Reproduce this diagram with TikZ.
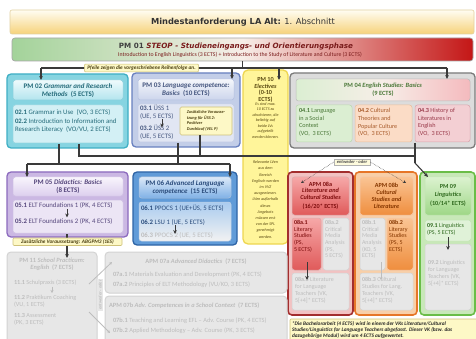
\documentclass[tikz,border=0pt]{standalone}
\usepackage{fontspec}
\setmainfont{Carlito}
\newfontfamily\widefont{DejaVu Sans}
\usetikzlibrary{arrows.meta}
\newcommand\fsz[2]{\fontsize{#1}{#2}\selectfont}
\newcommand\mybox[6]{\pgfmathsetmacro\mbw{#4-#2}\pgfmathsetmacro\mbh{#5-#3}%
  \node[#6,anchor=north west,minimum width=\mbw pt,minimum height=\mbh pt,inner sep=0pt,outer sep=0pt] (#1) at (#2,#3) {};}
\definecolor{cline}{HTML}{3A3A3A}
\definecolor{ttop}{HTML}{FFFDF2}\definecolor{tbot}{HTML}{F6D27A}\definecolor{tdraw}{HTML}{E2D0A0}
\definecolor{gA}{HTML}{A3D39A}\definecolor{wA}{HTML}{F7EEE8}\definecolor{rA}{HTML}{C41616}
\definecolor{txA}{HTML}{7A1C1C}
\definecolor{cyO}{HTML}{86D4E1}\definecolor{cyD}{HTML}{3FAFC4}\definecolor{cyH1}{HTML}{EFFAFC}\definecolor{cyH2}{HTML}{B3E5EE}\definecolor{cyB}{HTML}{D3F0F5}\definecolor{cyT}{HTML}{256B7A}
\definecolor{bhO}{HTML}{C3CEE8}\definecolor{bhD}{HTML}{6880BF}\definecolor{bhH1}{HTML}{F5F7FB}\definecolor{bhH2}{HTML}{CCD5EC}\definecolor{bhB}{HTML}{E1E6F3}\definecolor{bhT}{HTML}{44557E}
\definecolor{yeF}{HTML}{FFF59A}\definecolor{yeD}{HTML}{EED650}\definecolor{yeT}{HTML}{5A4A12}
\definecolor{grO}{HTML}{DCDCDC}\definecolor{grD}{HTML}{7A7A7A}
\definecolor{s1F}{HTML}{DBEED2}\definecolor{s1D}{HTML}{BCD8B2}\definecolor{s1T}{HTML}{4A7838}
\definecolor{s2F}{HTML}{FBDCC6}\definecolor{s2D}{HTML}{E8BE9E}\definecolor{s2T}{HTML}{A85A2A}
\definecolor{s3F}{HTML}{F3CFD3}\definecolor{s3D}{HTML}{D8A6AE}\definecolor{s3T}{HTML}{9A3A4A}
\definecolor{puO}{HTML}{CBB8E3}\definecolor{puD}{HTML}{8C6ABE}\definecolor{puH1}{HTML}{F9F5FC}\definecolor{puH2}{HTML}{DCCFEE}\definecolor{puB}{HTML}{ECE5F5}\definecolor{puT}{HTML}{55467C}
\definecolor{blO}{HTML}{609BD8}\definecolor{blD}{HTML}{2E64A6}\definecolor{blH1}{HTML}{DCE9F8}\definecolor{blH2}{HTML}{80B1E6}\definecolor{blB1}{HTML}{A9CBEF}\definecolor{blB2}{HTML}{F2F2F2}\definecolor{blT}{HTML}{2A4C7C}
\definecolor{reO}{HTML}{F2C2C2}\definecolor{reD}{HTML}{A32E2E}\definecolor{reH1}{HTML}{F6A8A8}\definecolor{reH2}{HTML}{E05A5A}\definecolor{reT}{HTML}{7E0E0E}
\definecolor{orO}{HTML}{F8CFA8}\definecolor{orD}{HTML}{E67628}\definecolor{orH1}{HTML}{FAC494}\definecolor{orH2}{HTML}{EF8E3E}\definecolor{orT}{HTML}{853600}
\definecolor{gnO}{HTML}{C8E8B8}\definecolor{gnD}{HTML}{6ABD48}\definecolor{gnH1}{HTML}{DCF2D0}\definecolor{gnH2}{HTML}{9ED786}\definecolor{gnB}{HTML}{E0F2D8}\definecolor{gnT}{HTML}{2F6A1E}
\definecolor{gyF}{HTML}{E7E7E7}\definecolor{gyD}{HTML}{D3D3D3}\definecolor{gyT}{HTML}{BDBDBD}
\definecolor{ntF}{HTML}{FDF8C6}\definecolor{ntD}{HTML}{CFC27A}\definecolor{ntT}{HTML}{4A3E10}
\tikzset{
  conn/.style={draw=cline,line width=1.1pt},
  arr/.style={conn,-{Stealth[length=4pt,width=3.6pt]}},
  garr/.style={draw=gyT,line width=0.8pt,-{Stealth[length=3pt,width=3pt]}},
  tx/.style={inner sep=0pt,outer sep=0pt,font=\fsz{6.2}{7.4}},
  bd/.style={tx,font=\fsz{6.8}{8}},
  hd/.style={tx,align=center,font=\bfseries\fsz{7}{8}},
  outer/.style={rounded corners=4pt,line width=1.3pt},
  inner/.style={rounded corners=2.5pt,line width=0.5pt},
  greybox/.style={inner,fill=gyF,draw=gyD},
}
\begin{document}
\begin{tikzpicture}[x=1pt,y=-1pt]
\useasboundingbox (0,0) rectangle (476,339);
\clip (0,0) rectangle (476,339);
\fill[white] (0,0) rectangle (476,339);

% ---------- title and PM01
\mybox{title}{10}{10}{474}{34}{rounded corners=2pt,top color=ttop,bottom color=tbot,draw=tdraw,line width=0.6pt}
\node[tx,font=\widefont\fsz{8.3}{10},text=black!80] (titlet) at (243,22) {\textbf{Mindestanforderung LA Alt:} 1. Abschnitt};
\mybox{pm01}{12}{38}{473}{61}{rounded corners=3pt,left color=gA,right color=rA,middle color=wA,draw=gray!70,line width=0.7pt}
\node[tx,font=\widefont\bfseries\fsz{7.2}{8}] (pm01a) at (236,46.5) {\textcolor{black!75}{PM 01} \textcolor{txA}{\textit{STEOP - Studieneingangs- und Orientierungsphase}}};
\node[tx,font=\fsz{5.8}{7},text=txA] (pm01b) at (240,55) {Introduction to English Linguistics (3 ECTS) + Introduction to the Study of Literature and Culture (3 ECTS)};

% ---------- top connectors
\coordinate (hub) at (242.5,68);
\coordinate (hubL) at (41,68);
\coordinate (hubR) at (447,68);
\coordinate (t03) at (232,68);
\coordinate (t10) at (279,68);

% ---------- PM02
\mybox{pm02}{7}{74}{128}{148}{outer,fill=cyO,draw=cyD}
\mybox{pm02h}{13}{80}{123}{100}{inner,top color=cyH1,bottom color=cyH2,draw=cyD!60}
\mybox{pm02b}{13}{105}{123}{143}{inner,fill=cyB,draw=cyD!50}
\node[hd,text=cyT] (pm02ht) at (68,90.5) {PM 02 \textit{Grammar and Research}\\\textit{Methods} \ (5 ECTS)};
\node[bd,anchor=west,text=cyT] (i021) at (15,112) {\textbf{02.1} Grammar in Use \ (VO, 3 ECTS)};
\node[bd,anchor=north west,align=left,text=cyT] (i022) at (15,119) {\textbf{02.2} Introduction to Information and\\Research Literacy \ (VO/VU, 2 ECTS)};

% ---------- PM03
\mybox{pm03}{132}{73}{240}{147}{outer,fill=bhO,draw=bhD}
\mybox{pm03h}{138}{79}{234}{100}{inner,top color=bhH1,bottom color=bhH2,draw=bhD!50}
\mybox{pm03b}{138}{104}{234}{142}{inner,fill=bhB,draw=bhD!40}
\node[hd,text=bhT] (pm03ht) at (186,89.5) {PM 03 \textit{Language competence:}\\\textit{Basics} \ (10 ECTS)};
\node[bd,anchor=west,align=left,text=bhT] (i031) at (140,112) {\textbf{03.1} ÜSS 1\\(UE, 5 ECTS)};
\node[bd,anchor=west,align=left,text=bhT] (i032) at (140,132.5) {\textbf{03.2} ÜSS 2\\(UE, 5 ECTS)};
\coordinate (a031) at (162,119.5);
\coordinate (a032) at (162,127.5);

% ---------- PM10
\mybox{pm10}{243}{70}{288}{244}{outer,rounded corners=5pt,fill=yeF,draw=yeD}
\node[hd,text=yeT,font=\bfseries\fsz{6.2}{6.6}] (pm10ht) at (265.5,90) {PM 10\\\textit{Electives}\\(0-10\\ECTS)};
\node[tx,align=center,text=yeT,font=\itshape\fsz{4.1}{5.5}] (pm10a) at (265.5,120.5) {Es sind max.\\10 ECTS zu\\absolvieren, die\\beliebig auf\\beide LVs\\aufgeteilt\\werden können.};
\node[tx,align=center,text=yeT,font=\itshape\fsz{4.1}{6.2}] (pm10b) at (265.5,199.5) {Relevante LVen\\aus dem\\Bereich\\Englisch werden\\im VVZ\\ausgewiesen.\\LVen außerhalb\\dieses\\Angebots\\müssen erst\\von der SPL\\genehmigt\\werden.};

% ---------- PM04
\mybox{pm04}{290}{73}{475}{148}{outer,fill=grO,draw=grD}
\mybox{pm04h}{296}{79}{470}{101}{inner,left color=s1F,right color=s3F!90!red,middle color=wA,draw=grD!50}
\node[hd,text=s1T,font=\bfseries\fsz{6.4}{8}] (pm04ht) at (383,89.5) {PM 04 \textit{English Studies: Basics}\\(9 ECTS)};
\mybox{s041}{296}{105}{352}{142}{inner,fill=s1F,draw=s1D}
\mybox{s042}{355}{105}{412}{142}{inner,fill=s2F,draw=s2D}
\mybox{s043}{415}{105}{470}{142}{inner,fill=s3F,draw=s3D}
\node[tx,anchor=north west,align=left,text=s1T,font=\fsz{6.2}{7.6}] (i041) at (299,108.5) {\textbf{04.1} Language\\in a Social\\Context\\(VO, \ 3 ECTS)};
\node[tx,anchor=north west,align=left,text=s2T,font=\fsz{6.2}{7.6}] (i042) at (358,108.5) {\textbf{04.2} Cultural\\Theories and\\Popular Culture\\(VO, \ 3 ECTS)};
\node[tx,anchor=north west,align=left,text=s3T,font=\fsz{6.2}{7.6}] (i043) at (418,108.5) {\textbf{04.3} History of\\Literatures in\\English\\(VO, \ 3 ECTS)};

% ---------- PM05
\mybox{pm05}{7}{172}{128}{237}{outer,fill=puO,draw=puD}
\mybox{pm05h}{13}{177}{123}{196}{inner,top color=puH1,bottom color=puH2,draw=puD!40}
\mybox{pm05b}{13}{200}{123}{233}{inner,fill=puB,draw=puD!40}
\node[hd,text=puT] (pm05ht) at (68,186.5) {PM 05 \textit{Didactics: Basics}\\(8 ECTS)};
\node[bd,anchor=west,text=puT] (i051) at (15,205) {\textbf{05.1} ELT Foundations 1 (PK, 4 ECTS)};
\node[bd,anchor=west,text=puT] (i052) at (15,221.5) {\textbf{05.2} ELT Foundations 2 (PK, 4 ECTS)};
\coordinate (a051) at (67,209);
\coordinate (a052) at (67,217.5);

% ---------- PM06
\mybox{pm06}{133}{172}{237}{245}{outer,fill=blO,draw=blD}
\mybox{pm06h}{139}{177}{231}{198}{inner,top color=blH1,bottom color=blH2,draw=blD!40}
\mybox{pm06b}{139}{202}{231}{241}{inner,top color=blB1,bottom color=blB2,draw=blD!30}
\node[hd,text=blT] (pm06ht) at (185,187.5) {PM 06 \textit{Advanced Language}\\\textit{competence} \ (15 ECTS)};
\node[bd,anchor=west,text=blT] (i061) at (141,208.5) {\textbf{06.1} PPOCS 1 (UE+ÜS, 5 ECTS)};
\node[bd,anchor=west,text=blT] (i062) at (141,222) {\textbf{06.2} LSU 1 (UE, 5 ECTS)};
\node[bd,anchor=west,text=gyT] (i063) at (141,235) {\textbf{06.3} PPOCS 2 (UE, 5 ECTS)};
\coordinate (a061) at (175,225);
\coordinate (a062) at (175,234);

% ---------- APM08a
\mybox{ap8a}{288}{172}{353}{315}{outer,fill=reO,draw=reD,line width=1.6pt}
\mybox{ap8ah}{292}{177}{349}{215}{inner,top color=reH1,bottom color=reH2,draw=reD!40}
\node[hd,text=reT,font=\bfseries\fsz{6.2}{6.5}] (ap8aht) at (320.5,196) {APM 08a\\\textit{Literature and}\\\textit{Cultural Studies}\\[3pt](16/20* ECTS)};
\mybox{s8a1}{292}{218}{321}{270}{inner,top color=reH1,bottom color=reH2,draw=reD!40}
\mybox{s8a2}{323}{218}{349}{270}{greybox}
\mybox{s8a3}{292}{273}{349}{310}{greybox}
\node[tx,anchor=north west,align=left,text=reT,font=\fsz{6}{6.6}] (i8a1) at (294,220.5) {\textbf{08a.1}\\Literary\\Studies\\(PS,\\5 ECTS)};
\node[tx,anchor=north west,align=left,text=gyT,font=\fsz{6}{6.6}] (i8a2) at (325,220.5) {\textbf{08a.2}\\Critical\\Media\\Analysis\\(PS,\\5 ECTS)};
\node[tx,anchor=north west,align=left,text=gyT,font=\fsz{6}{7}] (i8a3) at (295,277) {\textbf{08a.3} Literature\\for Language\\Teachers (VK,\\5[+4]* ECTS)};
\coordinate (a8a1) at (307,262);
\coordinate (a8a2) at (307,280);

% ---------- APM08b
\mybox{ap8b}{355}{172}{417}{315}{outer,fill=orO,draw=orD,line width=1.6pt}
\mybox{ap8bh}{360}{177}{413}{215}{inner,top color=orH1,bottom color=orH2,draw=orD!40}
\node[hd,text=orT,font=\bfseries\fsz{6.2}{6.8}] (ap8bht) at (386.5,196) {APM 08b\\\textit{Cultural}\\\textit{Studies and}\\\textit{Literature}};
\mybox{s8b1}{360}{218}{385}{270}{greybox}
\mybox{s8b2}{387}{218}{413}{270}{inner,top color=orH1,bottom color=orH2,draw=orD!40}
\mybox{s8b3}{360}{273}{413}{310}{greybox}
\node[tx,anchor=north west,align=left,text=gyT,font=\fsz{6}{6.6}] (i8b1) at (362,220.5) {\textbf{08b.1}\\Critical\\Media\\Analysis\\(KO, 5\\ECTS)};
\node[tx,anchor=north west,align=left,text=orT,font=\fsz{6}{6.6}] (i8b2) at (389,220.5) {\textbf{08b.2}\\Literary\\Studies\\(PS, 5\\ECTS)};
\node[tx,anchor=north west,align=left,text=gyT,font=\fsz{6}{7}] (i8b3) at (362,277) {\textbf{08b.3} Cultural\\Studies for Lang.\\Teachers (VK,\\5[+4]* ECTS)};
\coordinate (a8b1) at (381,262);
\coordinate (a8b2) at (381,280);

% ---------- PM09
\mybox{pm09}{420}{172}{475}{315}{outer,fill=gnO,draw=gnD,line width=1.6pt}
\mybox{pm09h}{425}{177}{471}{215}{inner,top color=gnH1,bottom color=gnH2,draw=gnD!40}
\node[hd,text=gnT,font=\bfseries\fsz{6.2}{8.5}] (pm09ht) at (448,195) {PM 09\\\textit{Linguistics}\\(10/14* ECTS)};
\mybox{s091}{425}{220}{471}{241}{inner,fill=gnB,draw=gnD!40}
\mybox{s092}{425}{244}{471}{310}{greybox}
\node[tx,anchor=north west,align=left,text=gnT,font=\fsz{6}{6.8}] (i091) at (427,223.5) {\textbf{09.1} Linguistics\\(PS, 5 ECTS)};
\node[tx,anchor=north west,align=left,text=gyT,font=\fsz{6}{7.2}] (i092) at (428,260) {\textbf{09.2} Linguistics\\for Language\\Teachers (VK,\\5[+4]* ECTS)};
\coordinate (a091) at (448,237);
\coordinate (a092) at (448,250);

% ---------- row 3 (greyed)
\mybox{pm11}{7}{252}{97}{350}{outer,fill=gyF,draw=gyD,line width=1pt}
\node[hd,text=gyT,font=\bfseries\fsz{6.4}{7.4}] (pm11ht) at (52,264) {PM 11 \textit{School Practicum:}\\\textit{English} \ (7 ECTS)};
\node[tx,anchor=west,text=gyT] (i111) at (14,283) {\textbf{11.1} Schulpraxis (3 ECTS)};
\node[tx,anchor=north west,align=left,text=gyT] (i112) at (14,295) {\textbf{11.2} Praktikum Coaching\\(VU, 1 ECTS)};
\node[tx,anchor=north west,align=left,text=gyT] (i113) at (14,313) {\textbf{11.3} Assessment\\(PK, 3 ECTS)};
\coordinate (a111) at (52,286.5);
\coordinate (a112) at (52,293);

\mybox{ap7a}{105}{252}{287}{293}{outer,fill=gyF,draw=gyD,line width=1pt}
\node[tx,text=gyT,font=\bfseries\fsz{6.4}{7}] (ap7aht) at (196,261.5) {APM 07a \textit{Advanced Didactics} \ (7 ECTS)};
\node[tx,anchor=west,text=gyT,font=\fsz{6.4}{7}] (i7a1) at (113,275) {\textbf{07a.1} Materials Evaluation and Development (PK, 4 ECTS)};
\node[tx,anchor=west,text=gyT,font=\fsz{6.4}{7}] (i7a2) at (113,285) {\textbf{07a.2} Principles of ELT Methodology (VU/KO, 3 ECTS)};
\mybox{ap7b}{105}{296}{287}{350}{outer,fill=gyF,draw=gyD,line width=1pt}
\node[tx,anchor=west,text=gyT,font=\bfseries\fsz{6.4}{7}] (ap7bht) at (109,305.5) {APM 07b \textit{Adv. Competences in a School Context} \ (7 ECTS)};
\node[tx,anchor=west,text=gyT,font=\fsz{6.4}{7}] (i7b1) at (113,321) {\textbf{07b.1} Teaching and Learning EFL – Adv. Course (PK, 4 ECTS)};
\node[tx,anchor=west,text=gyT,font=\fsz{6.4}{7}] (i7b2) at (113,330.5) {\textbf{07b.2} Applied Methodology – Adv. Course (PK, 3 ECTS)};
\node[tx,rotate=90,text=gyT,font=\bfseries\itshape\fsz{4.4}{5},fill=gyF,inner sep=1pt] (eo2) at (100,295) {entweder - oder};
\coordinate (o11a) at (89,284);
\coordinate (o11b) at (89,312);
\coordinate (o7a) at (112,262);
\coordinate (o7b) at (110,333);

% ---------- footnote
\mybox{foot}{290}{319}{478}{345}{rounded corners=1pt,fill=ntF,draw=ntD,line width=0.6pt}
\node[tx,anchor=north west,align=left,text=black!85,font=\bfseries\itshape\fsz{5.3}{5.9}] (foott) at (292,321.5) {*Die Bachelorarbeit (4 ECTS) wird in einem der VKs Literature/Cultural\\Studies/Linguistics for Language Teachers abgefasst. Dieser VK (bzw. das\\dazugehörige Modul) wird um 4 ECTS aufgewertet.};

% ---------- connectors: top
\draw[conn] (pm01.south -| hub) -- (hub);
\draw[conn] (hubL) -- (hubR);
\draw[arr] (hubL) -- (hubL |- pm02h.north);
\draw[arr] (t03) -- (t03 |- pm03h.north);
\draw[arr] (t10) -- ([yshift=-10pt]t10 |- pm10.north);
\draw[arr] (hubR) -- (hubR |- pm04h.north);
\node[tx,fill=ntF,draw=ntD,line width=0.5pt,inner xsep=3pt,inner ysep=1.5pt,rounded corners=1pt,text=ntT,font=\bfseries\itshape\fsz{5.3}{5.8}] (note1) at (141.5,68) {Pfeile zeigen die vorgeschriebene Reihenfolge an.};

% internal arrows
\draw[arr,line width=0.9pt] (a031) -- (a032);
\draw[arr,line width=0.9pt] (a051) -- (a052);
\draw[arr,line width=0.9pt] (a061) -- (a062);
\draw[arr,line width=0.9pt] (a8a1) -- (a8a2);
\draw[garr] (a8b1) -- (a8b2);
\draw[arr,line width=0.9pt] (a091) -- (a092);
\draw[garr] (a111) -- (a112);
\draw[garr] (o11a) -- (o7a);
\draw[garr] (o11b) -- (o7b);

% PM03 note
\mybox{note3}{180}{107}{232}{135}{rounded corners=1.5pt,fill=ntF,draw=ntD,line width=0.6pt}
\node[tx,align=left,text=ntT,font=\bfseries\itshape\fsz{4.3}{5.6}] (note3t) at (note3.center) {Zusätzliche Vorausse-\\tzung für ÜSS 2:\\Positiver\\Durchlauf (VEL P)};

% ---------- connectors: middle
\coordinate (v02a) at (59,144);
\coordinate (v03a) at (178,143);
\coordinate (j1L) at (27,164);
\coordinate (j1R) at (230,164);
\coordinate (v02b) at (79,144);
\coordinate (v03b) at (200,135);
\coordinate (v04) at (415,143);
\coordinate (j2R) at (415,163);
\coordinate (p09) at (428,177);
\draw[conn] (v02a) -- (v02a |- j1L);
\draw[conn] (v03a) -- (v03a |- j1L);
\draw[conn] (j1L) -- (j1R);
\draw[arr] (j1L) -- (j1L |- pm05h.north);
\draw[arr] (j1R) -- (j1R |- pm06h.north);
\draw[conn] (v02b) -- (v02b |- 0,156) -- (415,156);
\draw[conn] (v03b) -- (v03b |- 0,156);
\draw[conn] (v04) -- (j2R);
\draw[arr] (j2R) -- (p09);
\node[tx,fill=ntF!60,draw=gray!60,line width=0.4pt,inner xsep=3pt,inner ysep=1.2pt,text=black!70,font=\bfseries\itshape\fsz{4.6}{5}] (eo1) at (352,162) {entweder - oder};
\coordinate (e8a) at (301,183);
\coordinate (e8b) at (406,183);
\draw[draw=cline,line width=0.5pt,densely dotted,-{Stealth[length=3pt,width=3pt]}] (eo1.west) -- (e8a);
\draw[draw=cline,line width=0.5pt,densely dotted,-{Stealth[length=3pt,width=3pt]}] (eo1.east) -- (e8b);

% PM05 -> PM11
\coordinate (p05) at (67,234);
\coordinate (p11) at (67,258);
\draw[arr] (p05) -- (p11);
\mybox{note5}{13}{238}{122}{245.5}{rounded corners=1pt,fill=ntF,draw=ntD,line width=0.6pt}
\node[tx,text=ntT,font=\bfseries\itshape\fsz{5.3}{5.8}] (note5t) at (note5.center) {Zusätzliche Voraussetzung: ABGPM3 (1ES)};
\end{tikzpicture}
\end{document}
